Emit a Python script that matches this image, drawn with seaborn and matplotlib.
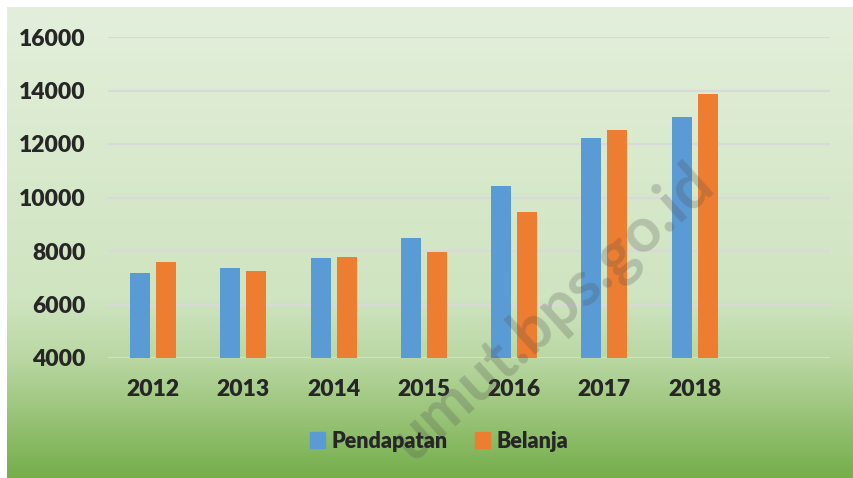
import numpy as np
import pandas as pd
import seaborn as sns
import matplotlib.pyplot as plt
from matplotlib.colors import LinearSegmentedColormap
from matplotlib.patches import Patch

# data
tahun = ["2012", "2013", "2014", "2015", "2016", "2017", "2018"]
pendapatan = [7180, 7360, 7740, 8490, 10430, 12220, 13010]
belanja = [7590, 7250, 7780, 7960, 9460, 12520, 13870]

df = pd.DataFrame({
    "tahun": tahun * 2,
    "nilai": pendapatan + belanja,
    "seri": ["Pendapatan"] * len(tahun) + ["Belanja"] * len(tahun),
})

sns.set_style("white")
plt.rcParams['font.family'] = ['Lato', 'DejaVu Sans']

fig = plt.figure(figsize=(8.54, 4.78), dpi=100)

# green gradient background
bg = fig.add_axes([7/854, 0, 1 - 7/854, 1 - 7/478], zorder=-2)
cmap = LinearSegmentedColormap.from_list("g", [
    (0.0, "#e3efdb"), (0.62, "#cfe4c0"), (0.75, "#b9d7a2"), (1.0, "#76ae4b")])
grad = np.linspace(0, 1, 256).reshape(-1, 1)
bg.imshow(grad, aspect="auto", cmap=cmap, extent=[0, 1, 1, 0])
bg.axis("off")

ax = fig.add_axes([108/854, 1 - 358/478, (830-108)/854, (358-37)/478])
ax.patch.set_alpha(0)
warna = {"Pendapatan": "#5b9bd5", "Belanja": "#ed7d31"}
sns.barplot(data=df, x="tahun", y="nilai", hue="seri", palette=warna,
            width=0.576, gap=0.23, saturation=1, linewidth=0,
            ax=ax, legend=False, zorder=3)

ax.set_xlim(-0.5, 7.5)
ax.set_ylim(4000, 16000)
ax.set_yticks(range(4000, 16001, 2000))
ax.yaxis.grid(True, color="#d9d9d9", linewidth=1.6, zorder=0)
ax.set_axisbelow(True)
for s in ax.spines.values():
    s.set_visible(False)
ax.set_xlabel("")
ax.set_ylabel("")
ax.tick_params(axis="both", length=0, labelsize=16.5)
ax.tick_params(axis="x", pad=15)
ax.tick_params(axis="y", pad=16)
for lab in ax.get_xticklabels() + ax.get_yticklabels():
    lab.set_fontweight(800)

handles = [Patch(color=warna[k], label=k) for k in ["Pendapatan", "Belanja"]]
fig.legend(handles=handles, loc="center", bbox_to_anchor=(439/854, 1 - 441/478),
           ncol=2, frameon=False, handlelength=0.7, handleheight=0.7,
           handletextpad=0.3, columnspacing=1.3,
           prop={"family": ["Lato", "DejaVu Sans"], "weight": 800, "size": 15.5})

# watermark
fig.text(553/854, 1 - 312/478, "umut.bps.go.id", rotation=42, rotation_mode="anchor",
         ha="center", va="center", fontsize=45, fontweight="bold",
         color="#4a4a4a", alpha=0.24, zorder=5)

fig.savefig("out.png", dpi=100)
